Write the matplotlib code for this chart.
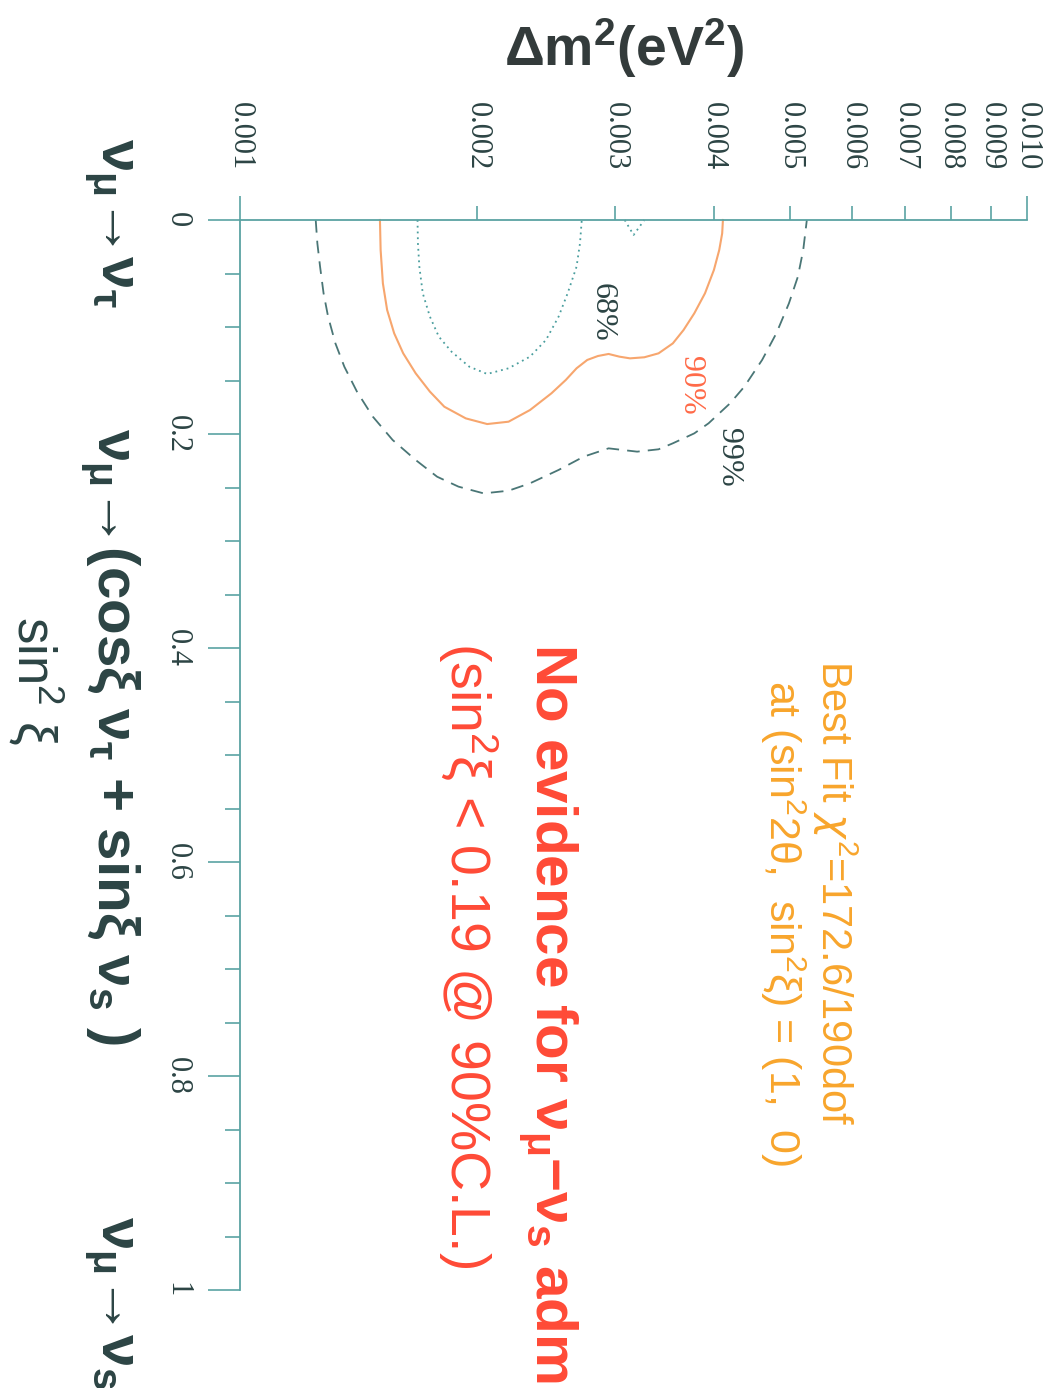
import matplotlib
matplotlib.use("Agg")
import matplotlib.pyplot as plt
from matplotlib import font_manager

# ---------------- data ----------------
dm2_major = [0.001, 0.010]
dm2_major_labels = ["0.001", "0.010"]
dm2_minor = [0.002, 0.003, 0.004, 0.005, 0.006, 0.007, 0.008, 0.009]
dm2_minor_labels = ["0.002", "0.003", "0.004", "0.005", "0.006", "0.007", "0.008", "0.009"]
s_major = [0.0, 0.2, 0.4, 0.6, 0.8, 1.0]
s_major_labels = ["0", "0.2", "0.4", "0.6", "0.8", "1"]
s_minor = [0.05, 0.1, 0.15, 0.25, 0.3, 0.35, 0.45, 0.5, 0.55, 0.65, 0.7, 0.75, 0.85, 0.9, 0.95]

# 99% C.L. contour (sin^2 xi, dm2)
c99_s = [0.0, 0.0218, 0.0436, 0.0685, 0.0903, 0.1153, 0.1371, 0.1604, 0.1838, 0.2056,
         0.2243, 0.2399, 0.2492, 0.2555, 0.2530, 0.2461, 0.2336, 0.2212, 0.2134, 0.2165,
         0.2143, 0.2087, 0.1994, 0.1900, 0.1713, 0.1558, 0.1308, 0.1059, 0.0779, 0.0530,
         0.0280, 0.0]
c99_dm2 = [0.001248, 0.001254, 0.001264, 0.001277, 0.001294, 0.001322, 0.001357, 0.001408,
           0.001475, 0.001563, 0.001672, 0.001780, 0.001895, 0.002040, 0.002194, 0.002336,
           0.002540, 0.002733, 0.002940, 0.003196, 0.003403, 0.003548, 0.003778, 0.003939,
           0.004195, 0.004373, 0.004607, 0.004803, 0.004983, 0.005115, 0.005196, 0.005251]

# 90% C.L. contour
c90_s = [0.0, 0.0280, 0.0592, 0.0841, 0.1059, 0.1246, 0.1433, 0.1604, 0.1745, 0.1854,
         0.1907, 0.1885, 0.1776, 0.1620, 0.1495, 0.1386, 0.1308, 0.1271, 0.1252, 0.1277,
         0.1293, 0.1283, 0.1246, 0.1153, 0.1028, 0.0872, 0.0685, 0.0467, 0.0280, 0.0125, 0.0]
c90_dm2 = [0.001506, 0.001509, 0.001519, 0.001538, 0.001570, 0.001612, 0.001672, 0.001743,
           0.001818, 0.001936, 0.002061, 0.002194, 0.002336, 0.002487, 0.002594, 0.002677,
           0.002762, 0.002850, 0.002940, 0.003034, 0.003130, 0.003264, 0.003403, 0.003548,
           0.003661, 0.003778, 0.003898, 0.004001, 0.004064, 0.004099, 0.004108]

# 68% C.L. contour
c68_s = [0.0, 0.0218, 0.0436, 0.0685, 0.0903, 0.1090, 0.1231, 0.1371, 0.1439, 0.1386,
         0.1277, 0.1121, 0.0903, 0.0685, 0.0436, 0.0218, 0.0]
c68_dm2 = [0.001681, 0.001683, 0.001690, 0.001707, 0.001743, 0.001789, 0.001857, 0.001956,
           0.002061, 0.002194, 0.002336, 0.002448, 0.002540, 0.002608, 0.002677, 0.002704,
           0.002718]
c68b_s = [0.0, 0.0140, 0.0]
c68b_dm2 = [0.003082, 0.003163, 0.003264]

# ---------------- style ----------------
plt.rcParams["font.family"] = ["Liberation Sans", "DejaVu Sans"]
plt.rcParams["mathtext.default"] = "regular"

_names = {f.name for f in font_manager.fontManager.ttflist}
HAS_NARROW = "Liberation Sans Narrow" in _names

W, H = 1055, 1388
fig = plt.figure(figsize=(W / 100, H / 100), dpi=100)
fig.patch.set_facecolor("white")

def fx(px):
    return px / W

def fy(py):
    return 1 - py / H

axis_col = "#5aa3a3"
dark = "#2c4444"

ax = fig.add_axes([fx(240), fy(1290), fx(1027) - fx(240), fy(220) - fy(1290)])
ax.set_facecolor("none")
ax.set_xscale("log")
ax.set_xlim(0.001, 0.010)
ax.set_ylim(1.0, 0.0)

for sp in ["bottom", "right"]:
    ax.spines[sp].set_visible(False)
for sp in ["top", "left"]:
    ax.spines[sp].set_color(axis_col)
    ax.spines[sp].set_linewidth(1.3)

ax.xaxis.set_ticks_position("top")
ax.xaxis.set_label_position("top")
ax.set_xticks(dm2_major, dm2_major_labels)
ax.set_xticks(dm2_minor, dm2_minor_labels, minor=True)
ax.set_yticks(s_major, s_major_labels)
ax.set_yticks(s_minor, minor=True)

ax.tick_params(axis="x", which="major", direction="out", length=17, width=1.2,
               color=axis_col, pad=19, labelsize=22, labelcolor=dark, labelrotation=-90)
ax.tick_params(axis="x", which="minor", direction="out", length=10, width=1.2,
               color=axis_col, pad=26, labelsize=22, labelcolor=dark, labelrotation=-90)
ax.tick_params(axis="y", which="major", direction="out", length=23, width=1.2,
               color=axis_col, pad=12, labelsize=22, labelcolor=dark, labelrotation=-90)
ax.tick_params(axis="y", which="minor", direction="out", length=11, width=1.2,
               color=axis_col)
for lab in ax.get_xticklabels(which="both") + ax.get_yticklabels():
    lab.set_family("Liberation Serif")
for lab in ax.get_yticklabels():
    lab.set_va("center")

# contours
ax.plot(c99_dm2, c99_s, color="#4a7676", lw=1.3, ls=(0, (7, 4.5)), clip_on=False)
ax.plot(c90_dm2, c90_s, color="#f7a66e", lw=1.5, ls="-", clip_on=False)
ax.plot(c68_dm2, c68_s, color="#4a9e9e", lw=1.3, ls=(0, (1, 2.2)), clip_on=False)
ax.plot(c68b_dm2, c68b_s, color="#4a9e9e", lw=1.3, ls=(0, (1, 2.2)), clip_on=False)

# contour labels
serif = "Liberation Serif"
fig.text(fx(602), fy(283), "68%", rotation=-90, ha="center", va="top",
         fontsize=23, family=serif, color=dark)
fig.text(fx(690), fy(356), "90%", rotation=-90, ha="center", va="top",
         fontsize=23, family=serif, color="#ff6a48")
fig.text(fx(728), fy(428), "99%", rotation=-90, ha="center", va="top",
         fontsize=23, family=serif, color=dark)

# title (Delta m^2 axis)
fig.text(fx(624), fy(48), r"Δm$^2$(eV$^2$)", ha="center", va="center",
         fontsize=40, fontweight="bold", color="#333b3b")

# left-side labels
fig.text(fx(110), fy(138), r"$\nu_\mu$→$\nu_\tau$", rotation=-90, ha="center", va="top",
         fontsize=42, fontweight="bold", color=dark)
fig.text(fx(110), fy(428), r"$\nu_\mu$→(cos$\xi\;\nu_\tau$ + sin$\xi\;\nu_s$ )",
         rotation=-90, ha="center", va="top", fontsize=42, fontweight="bold", color=dark)
fig.text(fx(110), fy(1216), r"$\nu_\mu$→$\nu_s$", rotation=-90, ha="center", va="top",
         fontsize=42, fontweight="bold", color=dark)
fig.text(fx(36), fy(616), r"sin$^2$ $\xi$", rotation=-90, ha="center", va="top",
         fontsize=38, color=dark)

# annotations
orange = "#f8a52c"
red = "#ff4a36"
fig.text(fx(835), fy(660), r"Best Fit $\mathit{\chi}^2$=172.6/190dof", rotation=-90,
         ha="center", va="top", fontsize=30, color=orange)
fig.text(fx(783), fy(680), r"at (sin$^2$2$\theta$,  sin$^2\xi$) = (1,  0)", rotation=-90,
         ha="center", va="top", fontsize=31, color=orange)
fig.text(fx(548), fy(643), r"No evidence for $\nu_\mu$−$\nu_s$ adm", rotation=-90,
         ha="center", va="top", fontsize=42, fontweight="bold", color=red)
if HAS_NARROW:
    fig.text(fx(468), fy(642), r"(sin$^2\xi$ < 0.19 @ 90%C.L.)", rotation=-90,
             ha="center", va="top", fontsize=48, color=red,
             family=["Liberation Sans Narrow", "Liberation Sans"])
else:
    fig.text(fx(468), fy(642), r"(sin$^2\xi$ < 0.19 @ 90%C.L.)", rotation=-90,
             ha="center", va="top", fontsize=40, color=red)

fig.savefig("out.png", dpi=100)
